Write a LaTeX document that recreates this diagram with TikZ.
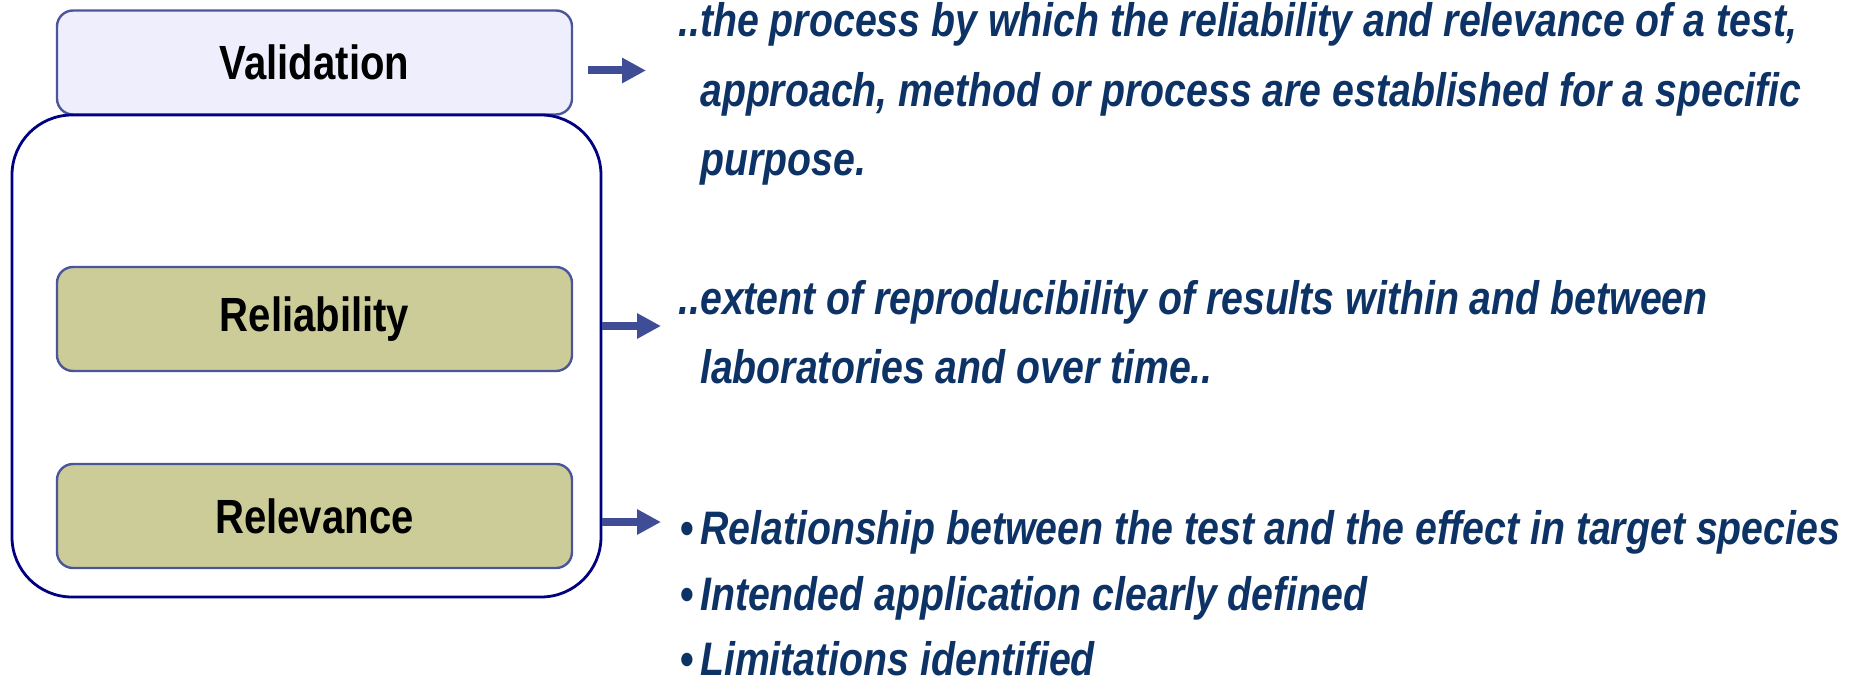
\documentclass[tikz,border=0pt]{standalone}
\usepackage{fontspec}
\setmainfont{Liberation Sans}[FakeStretch=0.835]
\usepackage{tikz}
\usetikzlibrary{arrows.meta, positioning}

\definecolor{lavender}{HTML}{EEEEFC}
\definecolor{olive}{HTML}{CCCC99}
\definecolor{boxline}{HTML}{4A5699}
\definecolor{framenavy}{HTML}{000080}
\definecolor{arrowblue}{HTML}{3F4C96}
\definecolor{textnavy}{HTML}{0D3366}

\tikzset{
  termbox/.style={draw=boxline, line width=2.4pt, rounded corners=16pt,
    minimum width=515pt, minimum height=104pt, inner sep=0pt,
    font=\fontsize{48}{56}\selectfont\bfseries},
  defn/.style={anchor=base west, inner sep=0pt, text=textnavy,
    font=\fontsize{47}{56}\selectfont\bfseries\itshape},
  arr/.style={arrowblue, line width=8pt, -{Triangle[length=24pt,width=24pt]}}
}
\newcommand{\dotlead}{\llap{..}}
\newcommand{\blt}{\llap{\upshape\textbullet\hspace{6pt}}}

\begin{document}
\begin{tikzpicture}[x=1pt, y=-1pt]
  \useasboundingbox (0,0) rectangle (1860,685);
  % Terms
  \node[termbox, fill=lavender] (val) at (314.5,62.5) {Validation};
  \node[draw=framenavy, line width=2.8pt, rounded corners=60pt,
    minimum width=589pt, minimum height=482pt] (frame) at (306.5,356) {};
  \node[termbox, fill=olive] (rel) at (314.5,319) {Reliability};
  \node[termbox, fill=olive] (relv) at (314.5,516) {Relevance};
  % Definitions
  \node[defn] (valtxt1) at (700,37) {\dotlead the process by which the reliability and relevance of a test,};
  \node[defn] (valtxt2) at (700,106) {approach, method or process are established for a specific};
  \node[defn] (valtxt3) at (700,175) {purpose.};
  \node[defn] (reltxt1) at (700,314) {\dotlead extent of reproducibility of results within and between};
  \node[defn] (reltxt2) at (700,383) {laboratories and over time..};
  \node[defn] (relvtxt1) at (700,544) {\blt Relationship between the test and the effect in target species};
  \node[defn] (relvtxt2) at (700,610) {\blt Intended application clearly defined};
  \node[defn] (relvtxt3) at (700,675) {\blt Limitations identified};
  % Arrows
  \draw[arr, shorten >=54pt] ([xshift=15pt, yshift=-8pt]val.east) -- ([yshift=-8pt]val.east -| valtxt1.west);
  \draw[arr, shorten >=39pt] ([yshift=-7pt]rel.east -| frame.east) -- ([yshift=-7pt]rel.east -| reltxt1.west);
  \draw[arr, shorten >=39pt] ([yshift=-6pt]relv.east -| frame.east) -- ([yshift=-6pt]relv.east -| relvtxt1.west);
\end{tikzpicture}
\end{document}
